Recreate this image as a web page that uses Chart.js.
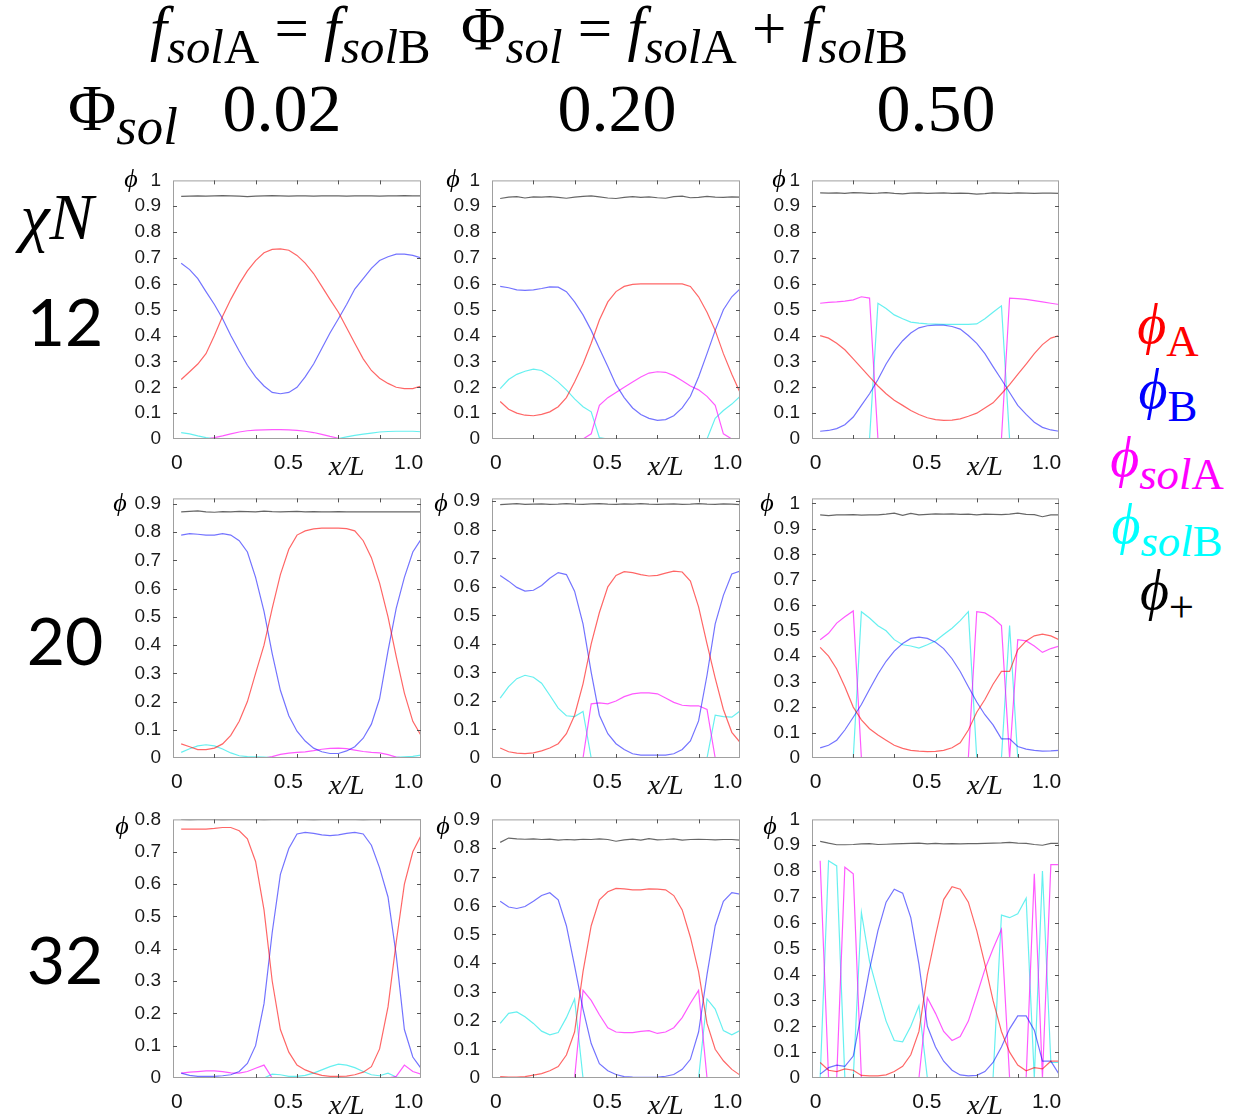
<!DOCTYPE html>
<html>
<head>
<meta charset="utf-8">
<script src="https://cdn.jsdelivr.net/npm/chart.js@4.4.1/dist/chart.umd.min.js"></script>
<style>
  body { margin: 0; background: #fff; }
  #page { position: relative; width: 1241px; height: 1118px; overflow: hidden;
          font-family: 'Liberation Serif', 'DejaVu Serif', serif; color: #000; }
  .txt { position: absolute; white-space: nowrap; transform: translate(-50%, -50%); line-height: 1; }
  .sb { font-size: 0.8em; vertical-align: -0.28em; }
  .num { font-family: Lato, 'Liberation Sans', sans-serif; }
  canvas { position: absolute; }
</style>
</head>
<body>
<div id="page">
  <div class="txt" style="left:529px; top:35px; font-size:61px;"><i>f</i><span class="sb"><i>sol</i>A</span> = <i>f</i><span class="sb"><i>sol</i>B</span>&nbsp; Φ<span class="sb"><i>sol</i></span> = <i>f</i><span class="sb"><i>sol</i>A</span> + <i>f</i><span class="sb"><i>sol</i>B</span></div>
  <div class="txt" style="left:123px; top:114px; font-size:66px;">Φ<span class="sb"><i>sol</i></span></div>
  <div class="txt" style="left:282px; top:108px; font-size:68px;">0.02</div>
  <div class="txt" style="left:617px; top:108px; font-size:68px;">0.20</div>
  <div class="txt" style="left:936px; top:108px; font-size:68px;">0.50</div>

  <div class="txt" style="left:57px; top:217px; font-size:66px;"><i>χN</i></div>
  <div class="txt num" style="left:65px; top:321px; font-size:66px;">12</div>
  <div class="txt num" style="left:65px; top:640px; font-size:66px;">20</div>
  <div class="txt num" style="left:65px; top:959px; font-size:66px;">32</div>

  <div class="txt" style="left:1168px; top:330px; font-size:56px; color:#ff0000;"><i>ϕ</i><span class="sb">A</span></div>
  <div class="txt" style="left:1168px; top:395px; font-size:56px; color:#0000ff;"><i>ϕ</i><span class="sb">B</span></div>
  <div class="txt" style="left:1167px; top:463px; font-size:56px; color:#ff00ff;"><i>ϕ</i><span class="sb"><i>sol</i>A</span></div>
  <div class="txt" style="left:1167px; top:530px; font-size:56px; color:#00ffff;"><i>ϕ</i><span class="sb"><i>sol</i>B</span></div>
  <div class="txt" style="left:1167px; top:596px; font-size:56px; color:#000;"><i>ϕ</i><span class="sb">+</span></div>
</div>
<script>
// x/L grid shared by all panels
const xL = [0.033, 0.067, 0.1, 0.133, 0.167, 0.2, 0.233, 0.267, 0.3, 0.333,
            0.367, 0.4, 0.433, 0.467, 0.5, 0.533, 0.567, 0.6, 0.633, 0.667,
            0.7, 0.733, 0.767, 0.8, 0.833, 0.867, 0.9, 0.933, 0.967, 1.0];
const xTickPos = [0.015, 0.465, 0.70, 0.95];
const xTickText = ['0', '0.5', 'x/L', '1.0'];

// chiN = 12
const r1c1_A = [0.23,0.26,0.29,0.33,0.40,0.475,0.54,0.60,0.65,0.69,0.72,0.733,0.735,0.73,0.71,0.68,0.64,0.59,0.54,0.49,0.43,0.37,0.31,0.265,0.235,0.215,0.20,0.195,0.195,0.205];
const r1c1_B = [0.68,0.655,0.62,0.57,0.52,0.465,0.40,0.34,0.285,0.24,0.205,0.18,0.175,0.18,0.20,0.24,0.29,0.35,0.41,0.465,0.52,0.58,0.62,0.66,0.69,0.705,0.715,0.715,0.71,0.70];
const r1c1_solA = [0,0,0,0,0.005,0.012,0.02,0.027,0.032,0.034,0.035,0.036,0.036,0.035,0.033,0.03,0.025,0.018,0.01,0.003,0,0,0,0,0,0,0,0,0,0];
const r1c1_solB = [0.025,0.02,0.012,0.005,0.001,0,0,0,0,0,0,0,0,0,0,0,0,0,0,0.002,0.008,0.014,0.019,0.023,0.027,0.029,0.03,0.03,0.03,0.028];
const r1c1_plus = [0.938,0.939,0.94,0.939,0.94,0.941,0.94,0.939,0.937,0.939,0.94,0.941,0.94,0.939,0.94,0.94,0.939,0.94,0.94,0.94,0.939,0.94,0.94,0.94,0.939,0.94,0.94,0.941,0.94,0.94];

const r1c2_A = [0.145,0.115,0.10,0.092,0.09,0.095,0.105,0.125,0.16,0.22,0.29,0.37,0.46,0.53,0.57,0.59,0.598,0.60,0.60,0.60,0.60,0.60,0.60,0.59,0.55,0.49,0.42,0.33,0.25,0.18];
const r1c2_B = [0.59,0.585,0.577,0.575,0.577,0.582,0.588,0.587,0.57,0.53,0.48,0.42,0.35,0.28,0.21,0.16,0.12,0.095,0.08,0.072,0.075,0.09,0.12,0.165,0.24,0.33,0.42,0.50,0.55,0.58];
const r1c2_solA = [0,0,0,0,0,0,0,0,0,0,0,0.02,0.13,0.16,0.18,0.20,0.22,0.24,0.255,0.26,0.258,0.245,0.225,0.205,0.19,0.165,0.13,0.02,0,0];
const r1c2_solB = [0.195,0.23,0.25,0.262,0.27,0.265,0.245,0.22,0.19,0.155,0.125,0.105,0.005,0,0,0,0,0,0,0,0,0,0,0,0,0,0.08,0.11,0.135,0.165];
const r1c2_plus = [0.93,0.935,0.937,0.932,0.936,0.935,0.937,0.934,0.931,0.935,0.938,0.94,0.936,0.932,0.93,0.934,0.937,0.934,0.936,0.933,0.931,0.937,0.939,0.933,0.934,0.938,0.935,0.934,0.936,0.935];

const r1c3_A = [0.40,0.39,0.37,0.345,0.31,0.275,0.24,0.205,0.175,0.15,0.13,0.11,0.095,0.082,0.075,0.072,0.073,0.078,0.088,0.10,0.12,0.14,0.175,0.21,0.25,0.29,0.33,0.365,0.39,0.40];
const r1c3_B = [0.03,0.033,0.04,0.055,0.085,0.13,0.175,0.23,0.29,0.34,0.38,0.41,0.43,0.438,0.44,0.44,0.435,0.425,0.40,0.37,0.33,0.28,0.23,0.18,0.13,0.095,0.065,0.045,0.035,0.03];
const r1c3_solA = [0.525,0.528,0.53,0.533,0.538,0.55,0.545,0,0,0,0,0,0,0,0,0,0,0,0,0,0,0,0,0.545,0.543,0.54,0.535,0.53,0.525,0.52];
const r1c3_solB = [0,0,0,0,0,0,0,0.525,0.505,0.48,0.465,0.452,0.448,0.445,0.444,0.443,0.443,0.443,0.443,0.445,0.465,0.49,0.515,0,0,0,0,0,0,0];
const r1c3_plus = [0.952,0.951,0.952,0.95,0.953,0.952,0.95,0.951,0.953,0.95,0.948,0.951,0.952,0.95,0.951,0.952,0.95,0.951,0.95,0.947,0.949,0.952,0.951,0.95,0.952,0.951,0.95,0.951,0.951,0.95];

// chiN = 20
const r2c1_A = [0.05,0.04,0.03,0.03,0.035,0.05,0.08,0.13,0.2,0.3,0.4,0.53,0.65,0.74,0.79,0.805,0.812,0.815,0.815,0.815,0.813,0.805,0.77,0.71,0.62,0.5,0.36,0.23,0.13,0.08];
const r2c1_B = [0.79,0.795,0.793,0.79,0.79,0.795,0.79,0.77,0.73,0.64,0.52,0.37,0.24,0.15,0.095,0.06,0.035,0.022,0.016,0.016,0.025,0.04,0.07,0.12,0.21,0.38,0.53,0.64,0.73,0.775];
const r2c1_solA = [0,0,0,0,0,0,0,0,0,0,0,0.005,0.013,0.017,0.02,0.022,0.026,0.031,0.034,0.035,0.033,0.028,0.023,0.02,0.018,0.012,0.003,0,0,0];
const r2c1_solB = [0.02,0.033,0.043,0.047,0.043,0.032,0.018,0.008,0.005,0.004,0.003,0.001,0,0,0,0,0,0,0,0,0,0,0,0,0,0,0.002,0.004,0.006,0.01];
const r2c1_plus = [0.872,0.874,0.876,0.872,0.871,0.873,0.872,0.874,0.873,0.872,0.875,0.873,0.872,0.873,0.874,0.872,0.873,0.872,0.872,0.873,0.872,0.872,0.872,0.872,0.872,0.872,0.872,0.872,0.872,0.872];

const r2c2_A = [0.035,0.022,0.017,0.015,0.018,0.025,0.035,0.05,0.085,0.15,0.26,0.40,0.51,0.60,0.64,0.653,0.65,0.643,0.638,0.64,0.648,0.655,0.652,0.62,0.53,0.40,0.28,0.17,0.09,0.055];
const r2c2_B = [0.64,0.62,0.598,0.585,0.588,0.605,0.63,0.65,0.643,0.585,0.47,0.30,0.15,0.085,0.05,0.03,0.015,0.01,0.01,0.01,0.01,0.015,0.03,0.06,0.13,0.29,0.47,0.57,0.645,0.655];
const r2c2_solA = [0,0,0,0,0,0,0,0,0,0,0,0.19,0.193,0.19,0.20,0.215,0.225,0.228,0.228,0.225,0.21,0.195,0.185,0.183,0.183,0.17,0,0,0,0];
const r2c2_solB = [0.21,0.25,0.278,0.29,0.283,0.262,0.22,0.175,0.148,0.145,0.163,0,0,0,0,0,0,0,0,0,0,0,0,0,0,0,0.15,0.145,0.143,0.165];
const r2c2_plus = [0.888,0.89,0.892,0.889,0.89,0.891,0.889,0.89,0.892,0.89,0.889,0.891,0.892,0.89,0.889,0.891,0.89,0.892,0.89,0.889,0.89,0.891,0.889,0.89,0.892,0.89,0.889,0.891,0.89,0.888];

const r2c3_A = [0.435,0.40,0.35,0.28,0.20,0.15,0.115,0.09,0.07,0.05,0.038,0.03,0.027,0.025,0.026,0.03,0.04,0.06,0.11,0.18,0.23,0.29,0.34,0.34,0.425,0.46,0.48,0.487,0.48,0.465];
const r2c3_B = [0.04,0.05,0.07,0.11,0.16,0.21,0.27,0.33,0.38,0.42,0.45,0.47,0.475,0.47,0.455,0.43,0.39,0.34,0.28,0.22,0.17,0.13,0.075,0.075,0.045,0.035,0.03,0.027,0.028,0.03];
const r2c3_solA = [0.465,0.49,0.53,0.555,0.578,0,0,0,0,0,0,0,0,0,0,0,0,0,0,0.575,0.57,0.55,0.52,0,0.465,0.46,0.44,0.415,0.43,0.44];
const r2c3_solB = [0,0,0,0,0,0.575,0.55,0.52,0.5,0.465,0.445,0.44,0.432,0.445,0.46,0.485,0.51,0.54,0.575,0,0,0,0,0.52,0,0,0,0,0,0];
const r2c3_plus = [0.955,0.952,0.955,0.955,0.956,0.954,0.955,0.955,0.958,0.962,0.953,0.961,0.955,0.957,0.959,0.958,0.959,0.957,0.958,0.955,0.958,0.957,0.956,0.958,0.962,0.957,0.956,0.948,0.955,0.955];

// chiN = 32
const r3c1_A = [0.77,0.77,0.77,0.77,0.772,0.775,0.775,0.765,0.74,0.67,0.52,0.3,0.15,0.08,0.04,0.025,0.015,0.008,0.005,0.005,0.006,0.01,0.018,0.035,0.09,0.22,0.42,0.6,0.7,0.75];
const r3c1_B = [0.015,0.008,0.005,0.005,0.005,0.007,0.01,0.02,0.045,0.1,0.23,0.45,0.63,0.71,0.755,0.76,0.757,0.752,0.75,0.752,0.757,0.76,0.755,0.72,0.65,0.56,0.38,0.15,0.065,0.03];
const r3c1_solA = [0.015,0.018,0.02,0.022,0.022,0.02,0.016,0.015,0.02,0.03,0.04,0,0,0,0,0,0,0,0,0,0,0,0,0,0,0,0.005,0.04,0.02,0.012];
const r3c1_solB = [0,0,0,0,0,0,0,0,0,0,0,0.012,0.01,0.005,0.005,0.008,0.015,0.025,0.035,0.043,0.04,0.032,0.02,0.01,0.007,0.015,0.003,0,0,0];
const r3c1_plus = [0.8,0.799,0.8,0.801,0.8,0.799,0.8,0.8,0.801,0.8,0.799,0.8,0.8,0.8,0.801,0.8,0.799,0.8,0.8,0.8,0.801,0.8,0.799,0.8,0.8,0.8,0.8,0.8,0.8,0.8];

const r3c2_A = [0.005,0.003,0.003,0.005,0.01,0.015,0.025,0.04,0.08,0.16,0.37,0.53,0.62,0.648,0.66,0.658,0.655,0.655,0.658,0.657,0.655,0.635,0.585,0.49,0.37,0.19,0.1,0.06,0.03,0.01];
const r3c2_B = [0.615,0.595,0.59,0.597,0.615,0.635,0.645,0.62,0.53,0.39,0.24,0.12,0.05,0.025,0.012,0.005,0.003,0.002,0.002,0.003,0.006,0.012,0.03,0.065,0.16,0.36,0.53,0.615,0.645,0.64];
const r3c2_solA = [0,0,0,0,0,0,0,0,0,0,0.305,0.27,0.22,0.175,0.16,0.158,0.158,0.162,0.165,0.155,0.16,0.175,0.21,0.26,0.305,0,0,0,0,0];
const r3c2_solB = [0.19,0.225,0.23,0.213,0.19,0.163,0.15,0.158,0.21,0.275,0,0,0,0,0,0,0,0,0,0,0,0,0,0,0,0.275,0.24,0.165,0.15,0.165];
const r3c2_plus = [0.82,0.835,0.832,0.831,0.832,0.83,0.831,0.828,0.83,0.829,0.831,0.83,0.832,0.83,0.824,0.829,0.831,0.828,0.833,0.829,0.83,0.832,0.828,0.83,0.831,0.83,0.829,0.83,0.83,0.828];

const r3c3_A = [0.06,0.03,0.025,0.035,0.03,0.01,0.008,0.008,0.012,0.025,0.045,0.09,0.18,0.4,0.55,0.69,0.74,0.73,0.68,0.57,0.44,0.3,0.18,0.1,0.05,0.028,0.04,0.035,0.065,0.065];
const r3c3_B = [0.015,0.04,0.05,0.045,0.085,0.25,0.42,0.57,0.68,0.73,0.715,0.62,0.44,0.2,0.12,0.065,0.03,0.012,0.008,0.01,0.025,0.06,0.12,0.19,0.24,0.24,0.185,0.065,0.065,0.015];
const r3c3_solA = [0.84,0,0,0.815,0.79,0,0,0,0,0,0,0,0,0.31,0.25,0.18,0.145,0.16,0.22,0.32,0.42,0.5,0.575,0,0,0,0.79,0,0.825,0.825];
const r3c3_solB = [0,0.84,0.82,0,0,0.64,0.45,0.33,0.22,0.145,0.14,0.2,0.28,0,0,0,0,0,0,0,0,0,0.63,0.62,0.635,0.695,0,0.8,0.06,0.06];
const r3c3_plus = [0.915,0.908,0.902,0.902,0.903,0.905,0.906,0.903,0.904,0.905,0.906,0.907,0.908,0.905,0.907,0.905,0.906,0.905,0.906,0.906,0.907,0.908,0.909,0.911,0.908,0.907,0.903,0.9,0.907,0.907];

const seriesColors = ['rgba(255,0,0,0.6)', 'rgba(0,0,255,0.55)', 'rgba(255,0,255,0.65)', 'rgba(0,230,230,0.6)', 'rgba(0,0,0,0.6)'];

// plot boxes (px) and y ranges
const colLeft = [173, 492, 812];
const colWidth = [248, 248, 247];
const rowTop = [180, 498, 819];
const rowHeight = [259, 260, 259];
const yMax = [[1, 1, 1], [0.92, 0.91, 1.02], [0.8, 0.9, 1.0]];
const phiPos = [[131,179],[453,179],[779,179],[120,503],[441,503],[767,503],[122,826],[443,826],[770,826]];

const panelData = [
  [r1c1_A, r1c1_B, r1c1_solA, r1c1_solB, r1c1_plus],
  [r1c2_A, r1c2_B, r1c2_solA, r1c2_solB, r1c2_plus],
  [r1c3_A, r1c3_B, r1c3_solA, r1c3_solB, r1c3_plus],
  [r2c1_A, r2c1_B, r2c1_solA, r2c1_solB, r2c1_plus],
  [r2c2_A, r2c2_B, r2c2_solA, r2c2_solB, r2c2_plus],
  [r2c3_A, r2c3_B, r2c3_solA, r2c3_solB, r2c3_plus],
  [r3c1_A, r3c1_B, r3c1_solA, r3c1_solB, r3c1_plus],
  [r3c2_A, r3c2_B, r3c2_solA, r3c2_solB, r3c2_plus],
  [r3c3_A, r3c3_B, r3c3_solA, r3c3_solB, r3c3_plus]
];

// box around the plot + small inward ticks, matlab style
const framePlugin = {
  id: 'frame',
  afterDatasetsDraw(chart) {
    const { ctx, chartArea: a, scales: { x, y } } = chart;
    ctx.save();
    ctx.strokeStyle = '#a0a0a0';
    ctx.lineWidth = 1;
    ctx.strokeRect(a.left + 0.5, a.top + 0.5, a.right - a.left - 1, a.bottom - a.top - 1);
    ctx.strokeStyle = '#555';
    ctx.beginPath();
    for (let k = 1; k / 10 < y.max - 0.005; k++) {
      const py = Math.round(y.getPixelForValue(k / 10)) + 0.5;
      ctx.moveTo(a.left, py); ctx.lineTo(a.left + 4, py);
      ctx.moveTo(a.right, py); ctx.lineTo(a.right - 4, py);
    }
    for (let k = 1; k < 6; k++) {
      const px = Math.round(x.getPixelForValue(k / 6)) + 0.5;
      ctx.moveTo(px, a.top); ctx.lineTo(px, a.top + 4);
      ctx.moveTo(px, a.bottom); ctx.lineTo(px, a.bottom - 4);
    }
    ctx.stroke();
    ctx.restore();
  }
};

const page = document.getElementById('page');

panelData.forEach((series, p) => {
  const r = Math.floor(p / 3), c = p % 3;
  const canvas = document.createElement('canvas');
  canvas.width = colWidth[c] + 72;
  canvas.height = rowHeight[r] + 55;
  canvas.style.left = (colLeft[c] - 60) + 'px';
  canvas.style.top = (rowTop[r] - 15) + 'px';
  page.appendChild(canvas);

  const phi = document.createElement('div');
  phi.className = 'txt';
  phi.style.left = phiPos[p][0] + 'px';
  phi.style.top = phiPos[p][1] + 'px';
  phi.style.fontSize = '26px';
  phi.innerHTML = '<i>ϕ</i>';
  page.appendChild(phi);

  new Chart(canvas, {
    type: 'line',
    data: {
      datasets: series.map((vals, s) => ({
        data: vals.map((v, i) => ({ x: xL[i], y: v })),
        borderColor: seriesColors[s],
        borderWidth: 1.2,
        pointRadius: 0,
        tension: 0,
        fill: false
      }))
    },
    options: {
      responsive: false,
      animation: false,
      devicePixelRatio: 1,
      layout: { padding: { top: 15, right: 12, left: 0, bottom: 0 } },
      plugins: { legend: { display: false }, tooltip: { enabled: false } },
      scales: {
        x: {
          type: 'linear', min: 0, max: 1,
          grid: { display: false }, border: { display: false },
          afterBuildTicks: s => { s.ticks = xTickPos.map(v => ({ value: v })); },
          afterFit: s => { s.height = 40; },
          ticks: {
            autoSkip: false, maxRotation: 0, padding: 4, color: '#111',
            callback: (v, i) => xTickText[i],
            font: ctx => ctx.index === 2
              ? { family: 'Liberation Serif', style: 'italic', size: 28 }
              : { family: 'Liberation Sans', size: 21 }
          }
        },
        y: {
          min: 0, max: yMax[r][c],
          grid: { display: false }, border: { display: false },
          afterFit: s => { s.width = 60; },
          ticks: {
            stepSize: 0.1, includeBounds: false, padding: 4, color: '#1a1a1a',
            font: { family: 'Liberation Sans', size: 19 },
            callback: v => String(Math.round(v * 10) / 10)
          }
        }
      }
    },
    plugins: [framePlugin]
  });
});
</script>
</body>
</html>
